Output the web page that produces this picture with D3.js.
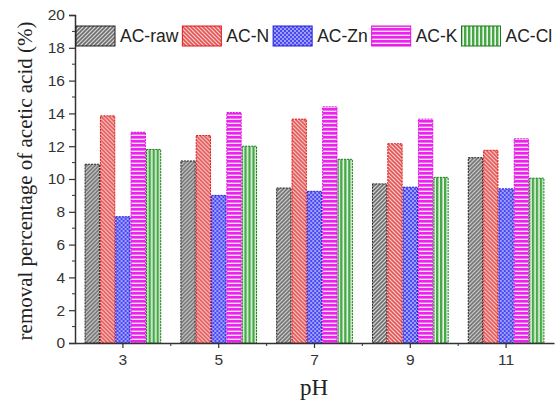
<!DOCTYPE html>
<html>
<head>
<meta charset="utf-8">
<script src="https://cdn.jsdelivr.net/npm/d3@7"></script>
<style>
html,body{margin:0;padding:0;background:#fff;}
svg{display:block;}
</style>
</head>
<body>
<svg id="chart" width="560" height="406"></svg>
<script>
const categories = ["3","5","7","9","11"];
const seriesNames = ["AC-raw","AC-N","AC-Zn","AC-K","AC-Cl"];
const acRaw = [10.9, 11.1, 9.45, 9.7, 11.3];
const acN   = [13.85, 12.65, 13.65, 12.15, 11.75];
const acZn  = [7.7, 9.0, 9.25, 9.5, 9.4];
const acK   = [12.85, 14.05, 14.4, 13.65, 12.45];
const acCl  = [11.8, 12.0, 11.2, 10.1, 10.05];
const yTicks = [0,2,4,6,8,10,12,14,16,18,20];
const seriesValues = [acRaw, acN, acZn, acK, acCl];

const svg = d3.select("#chart");
const x = d3.scaleBand().domain(categories).range([75, 554]).paddingInner(0.2).paddingOuter(0.1);
const x1 = d3.scaleBand().domain(seriesNames).range([0, x.bandwidth()]);
const y = d3.scaleLinear().domain([0, 20]).range([343, 15]);

// patterns
const defs = svg.append("defs");
const pat = [
  {id:"p0", bg:"#d8d8d8", fg:"#6e6e6e", stroke:"#222", type:"fdiag"},
  {id:"p1", bg:"#fbd0d0", fg:"#e25555", stroke:"#e01818", type:"bdiag"},
  {id:"p2", bg:"#4a4af2", fg:"#c8c8ff", stroke:"#1d1dd8", type:"dots"},
  {id:"p3", bg:"#f5a8f5", fg:"#ee22ee", stroke:"#dd11dd", type:"horiz"},
  {id:"p4", bg:"#d6efd6", fg:"#46a846", stroke:"#1a7a1a", type:"vert"}
];
pat.forEach(p => {
  const g = defs.append("pattern").attr("id", p.id).attr("patternUnits","userSpaceOnUse");
  if (p.type === "fdiag" || p.type === "bdiag") {
    g.attr("width",4).attr("height",4);
    g.append("rect").attr("width",4).attr("height",4).attr("fill",p.bg);
    const d = p.type === "fdiag" ? "M-1,1 l2,-2 M0,4 l4,-4 M3,5 l2,-2" : "M-1,3 l2,2 M0,0 l4,4 M3,-1 l2,2";
    g.append("path").attr("d", d).attr("stroke", p.fg).attr("stroke-width", 1.6);
  } else if (p.type === "dots") {
    g.attr("width",4).attr("height",4);
    g.append("rect").attr("width",4).attr("height",4).attr("fill",p.bg);
    g.append("circle").attr("cx",1).attr("cy",1).attr("r",0.9).attr("fill",p.fg);
    g.append("circle").attr("cx",3).attr("cy",3).attr("r",0.9).attr("fill",p.fg);
  } else if (p.type === "horiz") {
    g.attr("width",4).attr("height",4);
    g.append("rect").attr("width",4).attr("height",4).attr("fill","#fbe0fb");
    g.append("rect").attr("width",4).attr("height",2.6).attr("fill",p.fg);
  } else {
    g.attr("width",4).attr("height",4);
    g.append("rect").attr("width",4).attr("height",4).attr("fill","#eaf7ea");
    g.append("rect").attr("width",2.4).attr("height",4).attr("fill",p.fg);
  }
});

// bars
const groups = svg.append("g").selectAll("g").data(categories).join("g")
  .attr("transform", d => `translate(${x(d)},0)`);
groups.selectAll("rect").data((c, i) => seriesNames.map((s, j) => ({s, j, v: seriesValues[j][i]})))
  .join("rect")
  .attr("x", d => x1(d.s) + 0.5)
  .attr("y", d => y(d.v))
  .attr("width", x1.bandwidth() - 1)
  .attr("height", d => y(0) - y(d.v))
  .attr("fill", d => `url(#p${d.j})`)
  .attr("stroke", d => pat[d.j].stroke)
  .attr("stroke-width", 1)
  .attr("stroke-dasharray", "2,1");

// axes
const axColor = "#333";
const yAxis = svg.append("g").attr("transform","translate(75,0)")
  .call(d3.axisLeft(y).tickValues(yTicks).tickSize(6).tickPadding(4));
yAxis.select(".domain").attr("stroke",axColor).attr("stroke-width",1.5);
yAxis.selectAll(".tick line").attr("stroke",axColor).attr("stroke-width",1.2);
yAxis.selectAll(".tick text").attr("font-family","Liberation Sans, Arial, sans-serif").attr("font-size",15.5).attr("fill","#333");
// minor y ticks
svg.append("g").selectAll("line").data(d3.range(1,20,2)).join("line")
  .attr("x1",72).attr("x2",75).attr("y1",d=>y(d)).attr("y2",d=>y(d))
  .attr("stroke",axColor).attr("stroke-width",1);

const xAxis = svg.append("g").attr("transform","translate(0,343)")
  .call(d3.axisBottom(x).tickSize(5).tickPadding(6).tickSizeOuter(0));
xAxis.select(".domain").attr("stroke",axColor).attr("stroke-width",1.5);
xAxis.selectAll(".tick line").attr("stroke",axColor).attr("stroke-width",1.2);
xAxis.selectAll(".tick text").attr("font-family","Liberation Sans, Arial, sans-serif").attr("font-size",15.5).attr("fill","#333");
// minor x ticks between groups
svg.append("g").selectAll("line").data(categories.slice(1)).join("line")
  .attr("x1",d=>x(d)-x.step()*0.1).attr("x2",d=>x(d)-x.step()*0.1)
  .attr("y1",343).attr("y2",346).attr("stroke",axColor).attr("stroke-width",1);

// axis titles
svg.append("text").attr("transform","translate(27,181) rotate(-90)")
  .attr("text-anchor","middle").attr("dominant-baseline","middle")
  .attr("font-family","Liberation Serif, Times New Roman, serif").attr("font-size",21).attr("fill","#222")
  .text("removal percentage of acetic acid (%)");
svg.append("text").attr("x",314).attr("y",395).attr("text-anchor","middle")
  .attr("font-family","Liberation Serif, Times New Roman, serif").attr("font-size",23).attr("fill","#222")
  .text("pH");

// legend
const legend = svg.append("g");
let lx = 76;
seriesNames.forEach((s, j) => {
  legend.append("rect").attr("x", lx).attr("y", 26).attr("width", 39).attr("height", 20)
    .attr("fill", `url(#p${j})`).attr("stroke", pat[j].stroke).attr("stroke-width",1);
  const t = legend.append("text").attr("x", lx + 44).attr("y", 42)
    .attr("font-family","Liberation Sans, Arial, sans-serif").attr("font-size",17.5).attr("fill","#222")
    .text(s);
  lx = lx + 44 + t.node().getComputedTextLength() + 4;
});
</script>
</body>
</html>
